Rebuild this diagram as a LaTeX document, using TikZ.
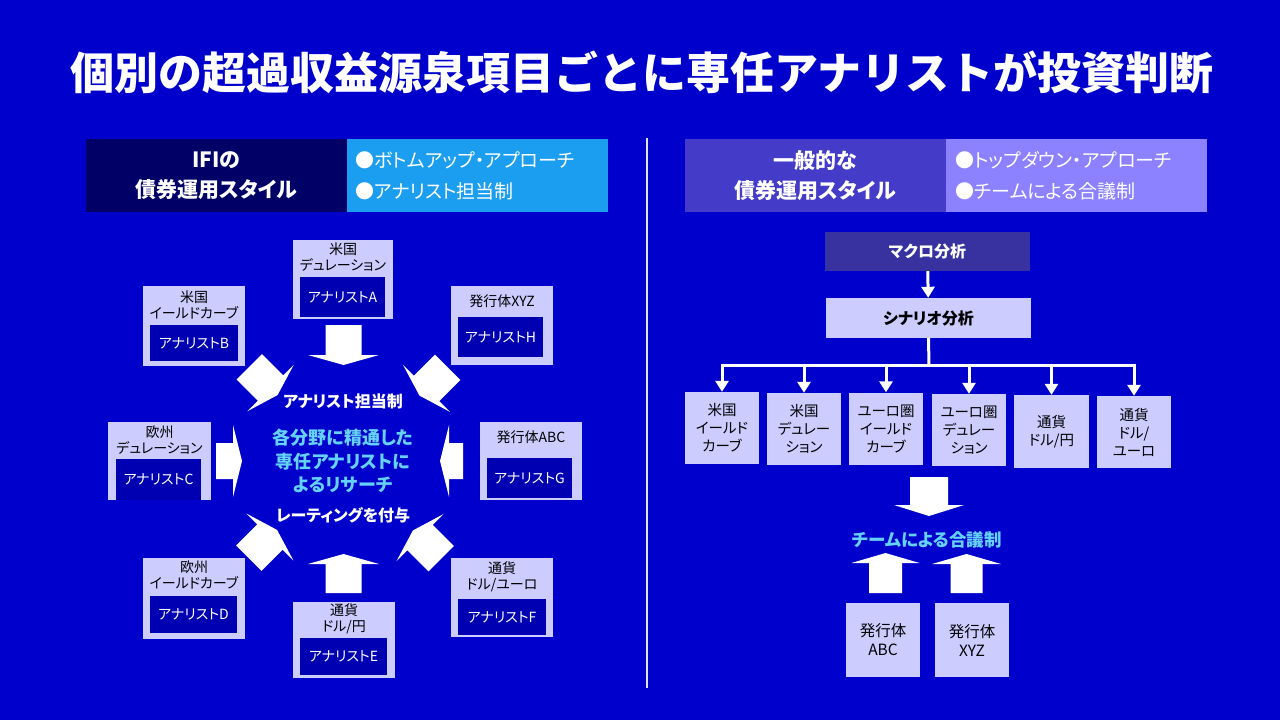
\documentclass[tikz,border=0pt]{standalone}
\usepackage{fontspec}
\setmainfont{Noto Sans CJK JP}[RawFeature={+palt}]
\newfontfamily\titlefont{Noto Sans CJK JP}
\usetikzlibrary{arrows.meta}
\definecolor{bg}{RGB}{0,0,204}
\definecolor{lav}{RGB}{204,204,255}
\definecolor{inblue}{RGB}{0,0,178}
\definecolor{navy}{RGB}{0,0,102}
\definecolor{skyb}{RGB}{28,158,240}
\definecolor{slate}{RGB}{68,60,200}
\definecolor{lilac}{RGB}{140,130,255}
\definecolor{macrob}{RGB}{55,50,160}
\definecolor{cyantext}{RGB}{100,210,250}
\definecolor{divgray}{RGB}{225,225,235}
\newcommand{\blockarr}[7]{%
  \fill[white, shift={(#1,#2)}, rotate=#3] (-#4,-#6) -- (0,-#6) -- (0,-#7) -- (#5,0) -- (0,#7) -- (0,#6) -- (-#4,#6) -- cycle;}
\begin{document}
\begin{tikzpicture}[x=1pt,y=-1pt,
  obox/.style={fill=lav, inner sep=0pt},
  ibox/.style={fill=inblue, text=white, inner sep=0pt, font=\fontsize{14}{16}\selectfont},
  olabel/.style={text=black, align=center, inner sep=0pt, font=\fontsize{14}{16}\selectfont},
  hbox/.style={inner sep=0pt, minimum width=261pt, minimum height=73pt},
  hbold/.style={text=white, align=center, font=\bfseries\fontsize{21}{30}\selectfont},
  hlist/.style={text=white, align=left, inner sep=0pt, anchor=west, font=\fontsize{19}{31}\selectfont},
  sbox/.style={fill=lav, inner sep=0pt, minimum width=74pt, minimum height=72pt, align=center, text=black, font=\fontsize{14.5}{18}\selectfont},
  wline/.style={white, line width=3pt},
  warr/.style={wline, -{Triangle[width=13pt,length=11pt]}},
]
\fill[bg] (0,0) rectangle (1280,720);
\useasboundingbox (0,0) rectangle (1280,720);

% title
\node[text=white, inner sep=0pt, font=\titlefont\bfseries\fontsize{44}{50}\selectfont] (title) at (642,72) {個別の超過収益源泉項目ごとに専任アナリストが投資判断};

% divider
\coordinate (dt) at (647,138);
\coordinate (db) at (647,688);
\draw[divgray, line width=1.5pt] (dt) -- (db);

% headers
\node[hbox, fill=navy, hbold] (hL1) at (216.5,175.5) {IFIの\\債券運用スタイル};
\node[hbox, fill=skyb] (hL2) at (477.5,175.5) {};
\node[hlist] (hL2t) at (355,176) {●ボトムアップ・アプローチ\\●アナリスト担当制};
\node[hbox, fill=slate, hbold] (hR1) at (815.5,175.5) {一般的な\\債券運用スタイル};
\node[hbox, fill=lilac] (hR2) at (1076.5,175.5) {};
\node[hlist] (hR2t) at (955,176) {●トップダウン・アプローチ\\●チームによる合議制};

% ---------- left diagram ----------
% A
\node[obox, minimum width=100pt, minimum height=79pt] (oA) at (343,279.5) {};
\node[ibox, minimum width=85pt, minimum height=40pt] (iA) at (342.5,297) {アナリストA};
\node[olabel] (lA) at (343,257) {米国\\デュレーション};
% B
\node[obox, minimum width=102pt, minimum height=80pt] (oB) at (194,326) {};
\node[ibox, minimum width=88pt, minimum height=36pt] (iB) at (194,343) {アナリストB};
\node[olabel] (lB) at (194,305) {米国\\イールドカーブ};
% H
\node[obox, minimum width=102pt, minimum height=79pt] (oH) at (502,325.5) {};
\node[ibox, minimum width=85pt, minimum height=40pt] (iH) at (500.5,337) {アナリストH};
\node[olabel] (lH) at (502,301) {発行体XYZ};
% C
\node[obox, minimum width=103pt, minimum height=78pt] (oC) at (159.5,461) {};
\node[ibox, minimum width=85pt, minimum height=41pt] (iC) at (158.5,479.5) {アナリストC};
\node[olabel] (lC) at (159.5,440) {欧州\\デュレーション};
% G
\node[obox, minimum width=102pt, minimum height=78pt] (oG) at (531,461) {};
\node[ibox, minimum width=85pt, minimum height=40pt] (iG) at (529.5,478) {アナリストG};
\node[olabel] (lG) at (531,437) {発行体ABC};
% D
\node[obox, minimum width=102pt, minimum height=81pt] (oD) at (194,598.5) {};
\node[ibox, minimum width=87pt, minimum height=37pt] (iD) at (193.5,614.5) {アナリストD};
\node[olabel] (lD) at (194,575) {欧州\\イールドカーブ};
% E
\node[obox, minimum width=102pt, minimum height=76pt] (oE) at (344,640) {};
\node[ibox, minimum width=87pt, minimum height=37pt] (iE) at (343.5,656.5) {アナリストE};
\node[olabel] (lE) at (344,619) {通貨\\ドル/円};
% F
\node[obox, minimum width=102pt, minimum height=79pt] (oF) at (502,597.5) {};
\node[ibox, minimum width=88pt, minimum height=36pt] (iF) at (502,617) {アナリストF};
\node[olabel] (lF) at (502,577) {通貨\\ドル/ユーロ};

% block arrows toward centre
\blockarr{343.5}{355}{-90}{30}{10}{18}{35.5}
\blockarr{343.5}{564}{90}{29}{10}{18}{35.5}
\blockarr{233}{461}{0}{17}{9}{18}{36}
\blockarr{449}{461}{180}{14}{9}{18}{36}
\blockarr{270.5}{388}{-45}{30}{10}{18}{33}
\blockarr{426.5}{388.5}{-135}{30}{10}{18}{33}
\blockarr{270}{537}{45}{30}{10}{18}{33}
\blockarr{420}{537.5}{135}{30}{10}{18}{33}

% centre texts
\node[text=white, inner sep=0pt, font=\bfseries\fontsize{16}{20}\selectfont] (tsys) at (343,401) {アナリスト担当制};
\node[text=cyantext, inner sep=0pt, align=center, font=\bfseries\fontsize{18}{23.5}\selectfont] (tres) at (343,461) {各分野に精通した\\専任アナリストに\\よるリサーチ};
\node[text=white, inner sep=0pt, font=\bfseries\fontsize{16}{20}\selectfont] (trat) at (343,515) {レーティングを付与};

% ---------- right diagram ----------
\node[fill=macrob, inner sep=0pt, minimum width=205pt, minimum height=39pt, text=white, font=\bfseries\fontsize{16}{20}\selectfont] (macro) at (927.5,251.5) {マクロ分析};
\node[fill=lav, inner sep=0pt, minimum width=205pt, minimum height=40pt, text=black, font=\bfseries\fontsize{16}{20}\selectfont] (scen) at (928.5,318) {シナリオ分析};
\draw[warr] (macro) -- (scen);

\node[sbox] (b1) at (722,428) {米国\\イールド\\カーブ};
\node[sbox] (b2) at (804,429) {米国\\デュレー\\ション};
\node[sbox] (b3) at (886,428.5) {ユーロ圏\\イールド\\カーブ};
\node[sbox] (b4) at (969,430) {ユーロ圏\\デュレー\\ション};
\node[sbox, minimum width=75pt, minimum height=73pt] (b5) at (1051.5,431.5) {通貨\\ドル/円};
\node[sbox] (b6) at (1134,432) {通貨\\ドル/\\ユーロ};

\coordinate (bj) at (929,365);
\draw[wline] (scen.south) -- (bj);
\draw[wline, line cap=rect] (b1.north |- bj) -- (b6.north |- bj);
\foreach \b in {b1,b2,b3,b4,b5,b6} \draw[warr] (\b.north |- bj) -- (\b.north);

\blockarr{929}{505}{-90}{28}{11}{19}{35}
\node[text=cyantext, inner sep=0pt, font=\bfseries\fontsize{17.5}{20}\selectfont] (team) at (927,540) {チームによる合議制};
\blockarr{885.5}{563}{90}{30}{10}{16.5}{34}
\blockarr{966.5}{564}{90}{29}{10}{16}{34.5}

\node[sbox, minimum height=74pt, font=\fontsize{15.5}{19}\selectfont] (i1) at (883,640) {発行体\\ABC};
\node[sbox, minimum height=74pt, font=\fontsize{15.5}{19}\selectfont] (i2) at (972,640) {発行体\\XYZ};
\end{tikzpicture}
\end{document}
